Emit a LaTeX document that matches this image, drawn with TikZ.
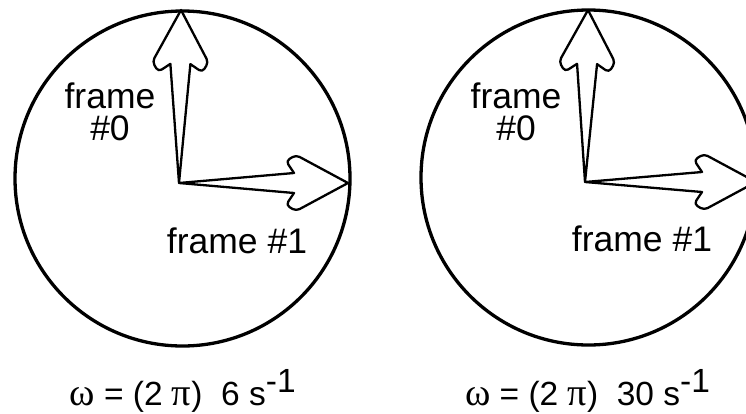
\documentclass[tikz,border=0pt]{standalone}
\usepackage{fontspec}
\setmainfont{Liberation Sans}
\newfontfamily\grk[Scale=1.15]{Liberation Serif}
\usetikzlibrary{calc}
\tikzset{
  rim/.style={draw=black, line width=3.3pt},
  arrowline/.style={draw=black, line width=2.3pt, line join=round},
  lbl/.style={inner sep=0pt, anchor=base, font=\fontsize{35.5}{35.5}\selectfont},
  omega/.style={inner sep=0pt, anchor=base, font=\fontsize{33.5}{33.5}\selectfont},
}
\newcommand\framearrow[2]{%
  \draw[arrowline] (#1) -- ($(#2)!54.9pt!10.5:(#1)$)
    [rounded corners=4pt] -- ($(#2)!65.8pt!19.5:(#1)$) -- ($(#2)!59.1pt!28.3:(#1)$)
    [sharp corners] -- (#2)
    [rounded corners=4pt] -- ($(#2)!59.1pt!-28.3:(#1)$) -- ($(#2)!65.8pt!-19.5:(#1)$)
    [sharp corners] -- ($(#2)!54.9pt!-10.5:(#1)$) -- cycle;}
\begin{document}
\begin{tikzpicture}[x=1pt,y=-1pt]
\useasboundingbox (0,0) rectangle (746,413);
\clip (0,0) rectangle (746,413);
% left wheel
\node[rim, circle, minimum size=335pt, inner sep=0pt] (w1) at (182.5,178.5) {};
\coordinate (b1) at (179,183);
\coordinate (u1) at (181,10);
\coordinate (r1) at (348,183);
\framearrow{b1}{u1}
\framearrow{b1}{r1}
\node[lbl] (f0a) at (110,108) {frame};
\node[lbl] (f0b) at (110,140) {\#0};
\node[lbl] (f1) at (237,253) {frame \#1};
\node[omega] (om1) at (182.5,405) {{\grk ω} = (2 {\grk π})\ \ 6 s\raisebox{13pt}{-1}};
% right wheel
\node[rim, circle, minimum size=335pt, inner sep=0pt] (w2) at (588.5,177.5) {};
\coordinate (b2) at (585,182);
\coordinate (u2) at (588,10);
\coordinate (r2) at (756,182);
\framearrow{b2}{u2}
\framearrow{b2}{r2}
\node[lbl] (g0a) at (516,108) {frame};
\node[lbl] (g0b) at (516,140) {\#0};
\node[lbl] (g1) at (642,251) {frame \#1};
\node[omega] (om2) at (587.5,405) {{\grk ω} = (2 {\grk π})\ \ 30 s\raisebox{13pt}{-1}};
\end{tikzpicture}
\end{document}
